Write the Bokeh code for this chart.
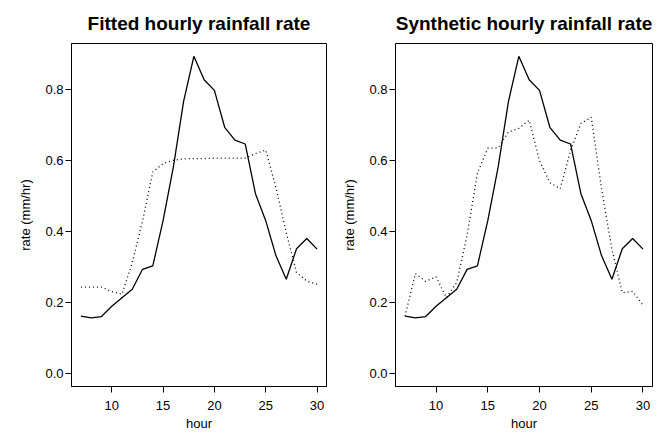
from bokeh.plotting import figure
from bokeh.layouts import row
from bokeh.models import Range1d, FixedTicker, PrintfTickFormatter
from bokeh.embed import file_html
from bokeh.resources import INLINE

hours = list(range(7, 31))
observed = [0.162, 0.157, 0.161, 0.190, 0.214, 0.238, 0.294, 0.304, 0.431, 0.582,
            0.767, 0.894, 0.828, 0.798, 0.694, 0.658, 0.647, 0.507, 0.431, 0.332,
            0.266, 0.352, 0.381, 0.351]
fitted = [0.244, 0.244, 0.244, 0.231, 0.224, 0.313, 0.430, 0.568, 0.592, 0.601,
          0.605, 0.606, 0.606, 0.607, 0.607, 0.607, 0.607, 0.620, 0.630, 0.524,
          0.397, 0.285, 0.261, 0.252]
synthetic = [0.162, 0.282, 0.260, 0.273, 0.214, 0.257, 0.390, 0.565, 0.635, 0.636,
             0.681, 0.691, 0.714, 0.600, 0.538, 0.521, 0.629, 0.705, 0.722, 0.520,
             0.350, 0.228, 0.232, 0.193]
x_ticks = [10, 15, 20, 25, 30]
y_ticks = [0.0, 0.2, 0.4, 0.6, 0.8]
titles = ["Fitted hourly rainfall rate", "Synthetic hourly rainfall rate"]

FONT = "Liberation Sans"


def make_panel(title, model, width, left_border, right_border):
    p = figure(width=width, height=433, output_backend="svg", toolbar_location=None,
               x_range=Range1d(6.08, 30.92), y_range=Range1d(-0.036, 0.93),
               min_border_left=left_border, min_border_right=right_border,
               min_border_top=43, min_border_bottom=47)
    p.title.text = title
    p.title.align = "center"
    p.title.text_font = FONT
    p.title.text_font_size = "19px"
    p.title.text_font_style = "bold"
    p.title.text_color = "black"
    p.title.standoff = 20
    p.outline_line_color = "black"
    p.outline_line_width = 1
    p.xgrid.visible = False
    p.ygrid.visible = False
    p.background_fill_color = "white"
    p.border_fill_color = "white"

    p.xaxis.ticker = FixedTicker(ticks=x_ticks)
    p.yaxis.ticker = FixedTicker(ticks=y_ticks)
    p.yaxis.formatter = PrintfTickFormatter(format="%.1f")
    p.xaxis.axis_label = "hour"
    p.yaxis.axis_label = "rate (mm/hr)"
    for ax in (p.xaxis, p.yaxis):
        ax.axis_line_color = "black"
        ax.major_tick_line_color = "black"
        ax.minor_tick_line_color = None
        ax.major_tick_out = 6
        ax.major_tick_in = 0
        ax.major_label_text_font = FONT
        ax.major_label_text_font_size = "13px"
        ax.major_label_text_color = "black"
        ax.axis_label_text_font = FONT
        ax.axis_label_text_font_size = "13px"
        ax.axis_label_text_font_style = "normal"
        ax.axis_label_text_color = "black"
    p.yaxis.major_label_orientation = "horizontal"
    p.yaxis.major_label_standoff = 2
    p.yaxis.axis_label_standoff = 9
    p.xaxis.major_label_standoff = 8
    p.xaxis.axis_label_standoff = 3

    p.line(hours, observed, line_color="black", line_width=1.3)
    p.line(hours, model, line_color="black", line_width=1.3, line_dash="1 3")
    return p


p1 = make_panel(titles[0], fitted, 331, 71, 5)
p2 = make_panel(titles[1], synthetic, 337, 64, 16)
layout = row(p1, p2)

open("out.html", "w").write(file_html(layout, INLINE))
